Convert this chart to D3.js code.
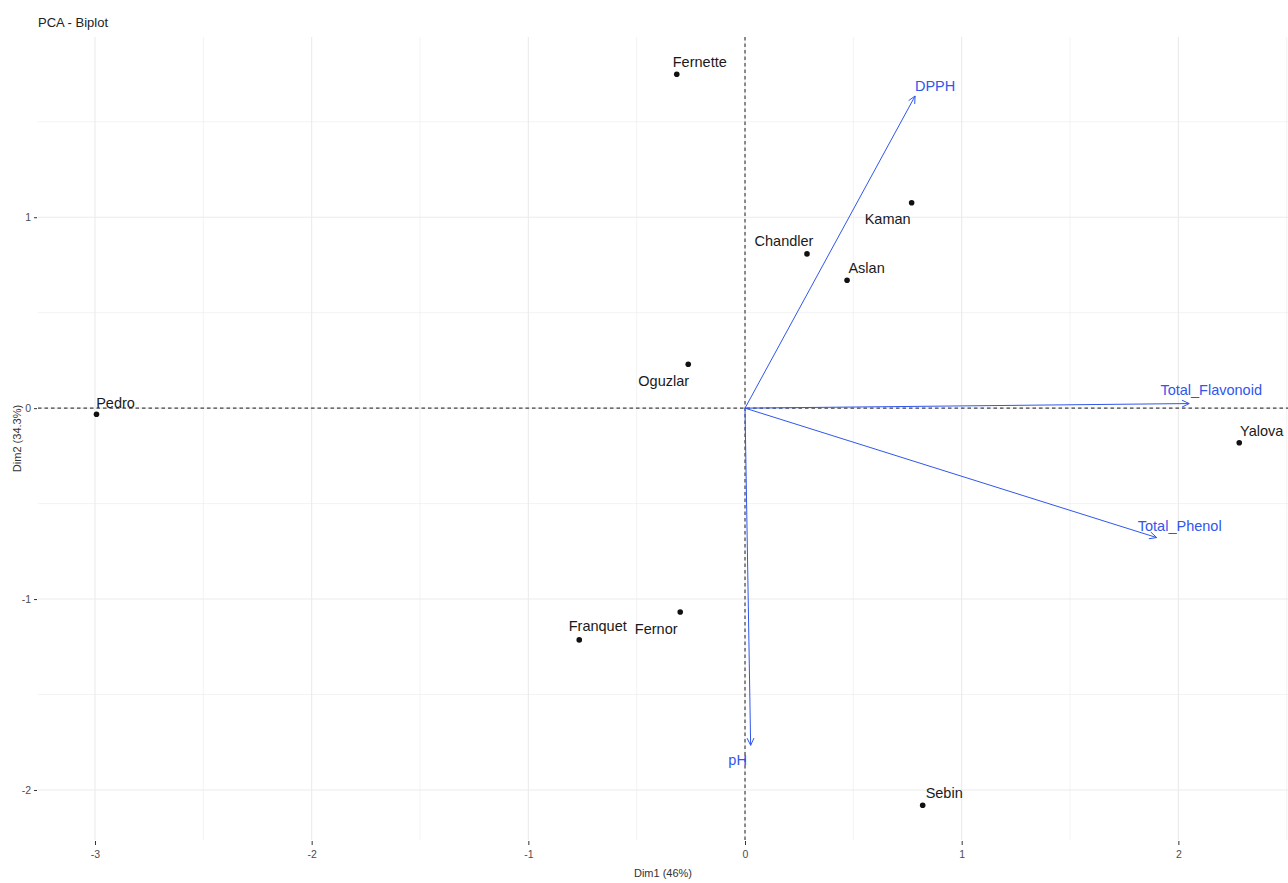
<!DOCTYPE html>
<html><head><meta charset="utf-8">
<script src="https://cdn.jsdelivr.net/npm/d3@7"></script>
<style>
body{margin:0;background:#fff;}
text{font-family:"Liberation Sans",Arial,sans-serif;}
</style></head>
<body><svg id="c" width="1288" height="883"></svg>
<script>
// ---- data ----
const individuals = ["Fernette","Kaman","Chandler","Aslan","Oguzlar","Franquet","Fernor","Yalova","Pedro","Sebin"];
const dim1 = [-0.315, 0.769, 0.286, 0.471, -0.262, -0.765, -0.299, 2.281, -2.993, 0.820];
const dim2 = [1.749, 1.076, 0.808, 0.670, 0.230, -1.214, -1.068, -0.181, -0.032, -2.080];
const variables = ["DPPH","Total_Flavonoid","Total_Phenol","pH"];
const varDim1 = [0.785, 2.050, 1.900, 0.026];
const varDim2 = [1.635, 0.024, -0.678, -1.766];
const xTicks = [-3,-2,-1,0,1,2];
const yTicks = [-2,-1,0,1];

// label placement (pixel offsets of label centre from mark)
const indLabelOffset = [[23,-12],[-24,16.5],[-23,-12.5],[19.5,-12],[-24.5,16.5],[18.5,-13.5],[-24,16.5],[22.5,-12],[19,-11],[21.5,-12]];
const varLabelOffset = [[20,-10],[22,-14],[23,-12],[-13,15]];

const svg = d3.select("#c");
const L = 38, R = 1288, T = 37, B = 840;
const x = d3.scaleLinear().domain([-3.263, 2.506]).range([L, R]);
const y = d3.scaleLinear().domain([-2.262, 1.944]).range([B, T]);
const blue = "#3056ec";

// grid
const g = svg.append("g");
const xMinor = d3.range(-3, 2.6, 0.5), yMinor = d3.range(-2, 1.6, 0.5);
g.selectAll(".vx").data(xMinor).join("line")
  .attr("x1", d => x(d)).attr("x2", d => x(d)).attr("y1", T).attr("y2", B)
  .attr("stroke", "#ebebeb").attr("stroke-width", d => Number.isInteger(d) ? 1.1 : 0.6);
g.selectAll(".hy").data(yMinor).join("line")
  .attr("y1", d => y(d)).attr("y2", d => y(d)).attr("x1", L).attr("x2", R)
  .attr("stroke", "#ebebeb").attr("stroke-width", d => Number.isInteger(d) ? 1.1 : 0.6);

// axes
const fmt = d => String(d);
const xAxis = svg.append("g").attr("transform", `translate(0,${B+1})`)
  .call(d3.axisBottom(x).tickValues(xTicks).tickSize(4).tickPadding(6).tickFormat(fmt));
const yAxis = svg.append("g").attr("transform", `translate(${L-1},0)`)
  .call(d3.axisLeft(y).tickValues(yTicks).tickSize(3).tickPadding(3).tickFormat(fmt));
[xAxis, yAxis].forEach(a => {
  a.select(".domain").remove();
  a.selectAll(".tick line").attr("stroke", "#333").attr("stroke-width", 1);
  a.selectAll(".tick text").attr("fill", "#4d4d4d").style("font-size", "10.5px").style("font-family", "'Liberation Sans', Arial, sans-serif");
});

// reference lines
svg.append("line").attr("x1", L).attr("x2", R).attr("y1", y(0)).attr("y2", y(0))
  .attr("stroke", "#444").attr("stroke-width", 1.2).attr("stroke-dasharray", "3.5,3");
svg.append("line").attr("x1", x(0)).attr("x2", x(0)).attr("y1", T).attr("y2", B)
  .attr("stroke", "#444").attr("stroke-width", 1.2).attr("stroke-dasharray", "3.5,3");

// points
const pts = individuals.map((n, i) => ({n, x: dim1[i], y: dim2[i], o: indLabelOffset[i]}));
svg.selectAll(".pt").data(pts).join("circle")
  .attr("cx", d => x(d.x)).attr("cy", d => y(d.y)).attr("r", 2.8).attr("fill", "#111");
svg.selectAll(".pl").data(pts).join("text")
  .attr("x", d => x(d.x) + d.o[0]).attr("y", d => y(d.y) + d.o[1])
  .attr("text-anchor", "middle").attr("dominant-baseline", "central")
  .attr("fill", "#1a1a1a").style("font-size", "14.5px").text(d => d.n);

// variable arrows
const vars = variables.map((n, i) => ({n, x: varDim1[i], y: varDim2[i], o: varLabelOffset[i]}));
const ox = x(0), oy = y(0);
vars.forEach(v => {
  const ex = x(v.x), ey = y(v.y);
  svg.append("line").attr("x1", ox).attr("y1", oy).attr("x2", ex).attr("y2", ey)
    .attr("stroke", blue).attr("stroke-width", 1);
  const ang = Math.atan2(ey - oy, ex - ox), len = 8, spread = Math.PI / 7;
  const p1 = [ex - len * Math.cos(ang - spread), ey - len * Math.sin(ang - spread)];
  const p2 = [ex - len * Math.cos(ang + spread), ey - len * Math.sin(ang + spread)];
  svg.append("path").attr("d", `M${p1[0]},${p1[1]}L${ex},${ey}L${p2[0]},${p2[1]}`)
    .attr("fill", "none").attr("stroke", blue).attr("stroke-width", 1);
});
svg.selectAll(".vl").data(vars).join("text")
  .attr("x", d => x(d.x) + d.o[0]).attr("y", d => y(d.y) + d.o[1])
  .attr("text-anchor", "middle").attr("dominant-baseline", "central")
  .attr("fill", blue).style("font-size", "14.5px").text(d => d.n);

// titles
svg.append("text").attr("x", L).attr("y", 27).attr("fill", "#222").style("font-size", "13px").text("PCA - Biplot");
svg.append("text").attr("x", (L + R) / 2).attr("y", 877).attr("text-anchor", "middle")
  .attr("fill", "#333").style("font-size", "11px").text("Dim1 (46%)");
svg.append("text").attr("transform", `translate(21,${(T + B) / 2}) rotate(-90)`).attr("text-anchor", "middle")
  .attr("fill", "#333").style("font-size", "11px").text("Dim2 (34.3%)");
</script></body></html>
